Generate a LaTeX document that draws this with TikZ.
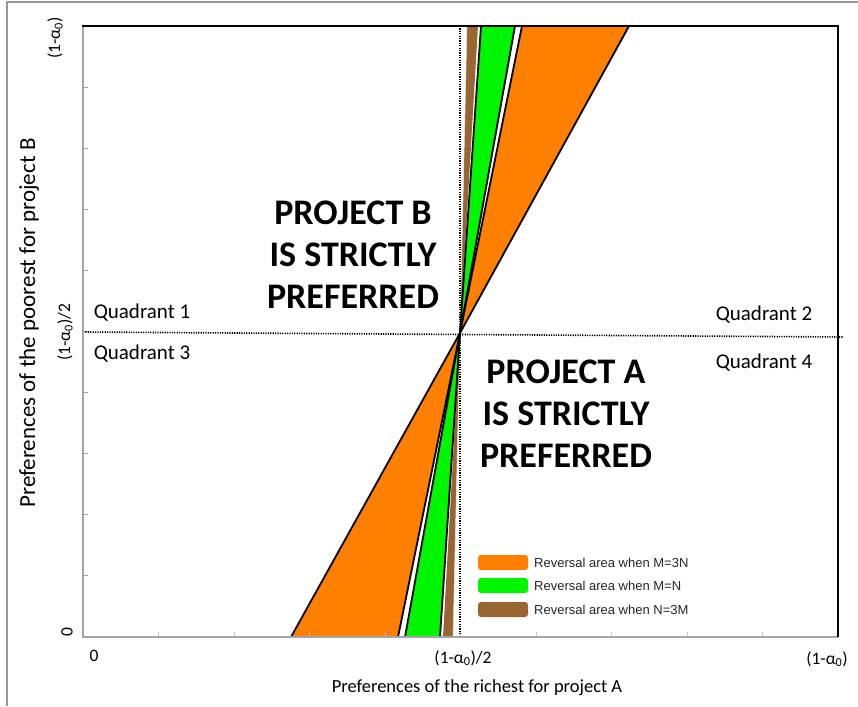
\documentclass[tikz,border=0pt]{standalone}
\usepackage{fontspec}
\setmainfont{Carlito}
\newfontfamily\legfont{Liberation Sans}
\definecolor{ora}{RGB}{255,128,0}
\definecolor{grn}{RGB}{0,245,0}
\definecolor{brn}{RGB}{153,102,51}
\definecolor{axgray}{RGB}{165,165,165}
\definecolor{tickgray}{RGB}{200,200,200}
\definecolor{framegray}{RGB}{150,150,150}
\tikzset{
  bandline/.style={black, line width=1.8pt},
  dotline/.style={black, line width=1.6pt, dash pattern=on 1.2pt off 1.2pt},
  ticklbl/.style={font=\fontsize{17.5}{20}\selectfont, inner sep=0pt},
  quadlbl/.style={font=\fontsize{21}{24}\selectfont, inner sep=0pt},
  bigtxt/.style={font=\fontsize{36}{42}\selectfont\bfseries, align=center, inner sep=0pt},
  swatch/.style={rounded corners=3pt},
  legtxt/.style={font=\legfont\fontsize{13}{15}\selectfont, anchor=west, inner sep=0pt, text=black!85},
}
\begin{document}
\begin{tikzpicture}[x=1pt,y=-1pt]
\useasboundingbox (0,0) rectangle (858,706);
% outer frame
\draw[framegray, line width=1.2pt] (7,706) -- (7,2) -- (858,2);
% coordinates
\coordinate (C) at (460,333);
\coordinate (oOt) at (629,26); \coordinate (oOb) at (291,637);
\coordinate (oIt) at (522,26); \coordinate (oIb) at (398,637);
\coordinate (gOt) at (515,26); \coordinate (gOb) at (405,637);
\coordinate (gIt) at (481,26); \coordinate (gIb) at (440,637);
\coordinate (bOt) at (478,26); \coordinate (bOb) at (443,637);
\coordinate (bIt) at (467,26); \coordinate (bIb) at (453,637);
% fills
\fill[brn] (bIt) -- (bOt) -- (C) -- cycle;
\fill[brn] (bIb) -- (bOb) -- (C) -- cycle;
\fill[grn] (gIt) -- (gOt) -- (C) -- cycle;
\fill[grn] (gIb) -- (gOb) -- (C) -- cycle;
\fill[ora] (oIt) -- (oOt) -- (C) -- cycle;
\fill[ora] (oIb) -- (oOb) -- (C) -- cycle;
% brown thin light edges
\draw[white!80!brn, line width=0.5pt] (bIt) -- (C) -- (bIb);
% black band lines
\draw[bandline] (oOt) -- (C) -- (oOb);
\draw[bandline] (oIt) -- (C) -- (oIb);
\draw[bandline] (gOt) -- (C) -- (gOb);
\draw[bandline] (gIt) -- (C) -- (gIb);
% ticks
\foreach \k in {1,...,9} {
  \draw[axgray, line width=1pt] (83,{26+61.1*\k}) -- (88,{26+61.1*\k});
  \draw[tickgray, line width=1pt] ({83+75.5*\k},637) -- ({83+75.5*\k},632);
}
% dotted quadrant lines
\coordinate (vt) at (460,26); \coordinate (vb) at (460,637);
\coordinate (hl) at (83,332); \coordinate (hr) at (843,337);
\draw[dotline] (vt) -- (vb);
\draw[dotline] (hl) -- (hr);
% axes
\draw[axgray, line width=2pt] (83,26) -- (83,637) -- (838,637);
\draw[black, line width=1.6pt] (82,26) -- (838,26) -- (838,637);
% axis tick labels
\node[ticklbl, rotate=90] (ytop) at (55,38) {(1-α\textsubscript{0})};
\node[ticklbl, rotate=90] (ymid) at (65,332) {(1-α\textsubscript{0})/2};
\node[ticklbl, rotate=90] (yzero) at (67,632) {0};
\node[ticklbl] (xzero) at (94,656) {0};
\node[ticklbl] (xmid) at (463,658) {(1-α\textsubscript{0})/2};
\node[ticklbl] (xtop) at (827,659) {(1-α\textsubscript{0})};
% axis titles
\node[font=\fontsize{18.5}{22}\selectfont, inner sep=0pt] (xtitle) at (477,688) {Preferences of the richest for project A};
\node[font=\fontsize{23}{26}\selectfont, inner sep=0pt, rotate=90] (ytitle) at (29,323) {Preferences of the poorest for project B};
% quadrant labels
\node[quadlbl] (q1) at (142,313) {Quadrant 1};
\node[quadlbl] (q3) at (142,354) {Quadrant 3};
\node[quadlbl] (q2) at (764,315) {Quadrant 2};
\node[quadlbl] (q4) at (764,363) {Quadrant 4};
% big texts
\node[bigtxt] (pb) at (353,255) {PROJECT B\\IS STRICTLY\\PREFERRED};
\node[bigtxt] (pa) at (566,414) {PROJECT A\\IS STRICTLY\\PREFERRED};
% legend
\fill[ora, swatch] (478,555) rectangle (528,570);
\fill[grn, swatch] (478,578) rectangle (528,593);
\fill[brn, swatch] (478,602) rectangle (528,617);
\node[legtxt] (l1) at (534,562.5) {Reversal area when M=3N};
\node[legtxt] (l2) at (534,585.5) {Reversal area when M=N};
\node[legtxt] (l3) at (534,609.5) {Reversal area when N=3M};
\end{tikzpicture}
\end{document}
